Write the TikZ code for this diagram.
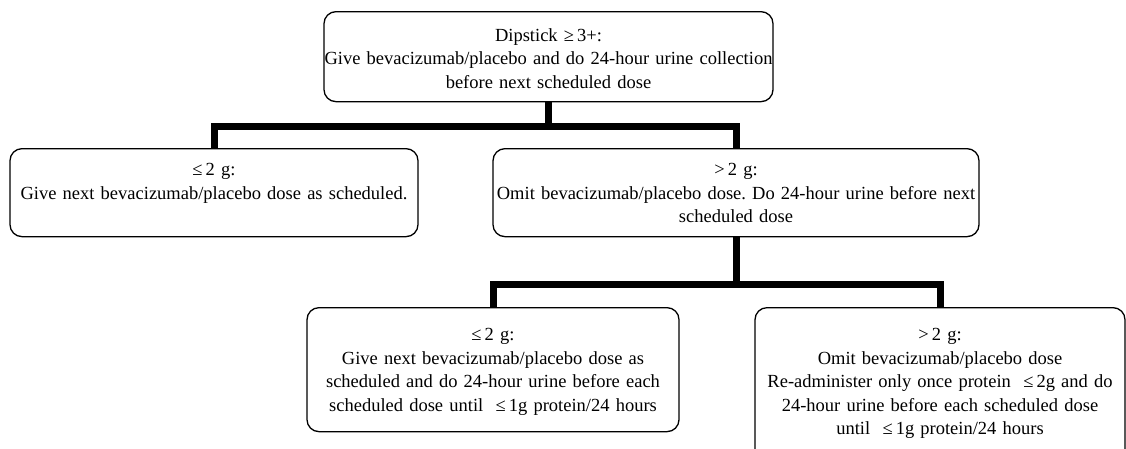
\documentclass[tikz,border=0pt]{standalone}
\usepackage{fontspec}
\setmainfont{Liberation Serif}
\usetikzlibrary{calc}
\frenchspacing

\begin{document}
\begin{tikzpicture}[x=1pt,y=-1pt]
% Box style
\tikzset{
    box/.style={draw, line width=1.3pt, rounded corners=12pt, anchor=north,
        align=center, inner xsep=0pt, inner ysep=0pt,
        font={\fontsize{18.5pt}{23.5pt}\selectfont}},
    conn/.style={line width=7pt}
}
\useasboundingbox (0,0) rectangle (1126,448);
% Boxes
\node[box, text width=449pt, text height=29.5pt, text depth=60.5pt] (DIP) at (548.5,11)
    {Dipstick ≥\,3+:\\ Give bevacizumab/placebo and do 24-hour urine collection\\ before next scheduled dose};
\node[box, text width=408pt, text height=27pt, text depth=61pt] (LOWa) at (214,148)
    {≤\,2 g:\\ Give next bevacizumab/placebo dose as scheduled.};
\node[box, text width=486pt, text height=27pt, text depth=61pt] (HIGHa) at (736,148)
    {>\,2 g:\\ Omit bevacizumab/placebo dose. Do 24-hour urine before next\\ scheduled dose};
\node[box, text width=372pt, text height=33pt, text depth=91pt] (LOWb) at (493,307)
    {≤\,2 g:\\ Give next bevacizumab/placebo dose as\\ scheduled and do 24-hour urine before each\\ scheduled dose until \ ≤\,1g protein/24 hours};
\node[box, text width=370pt, text height=33pt, text depth=130pt] (HIGHb) at (940,307)
    {>\,2 g:\\ Omit bevacizumab/placebo dose\\ Re-administer only once protein \ ≤\,2g and do\\ 24-hour urine before each scheduled dose\\ until \ ≤\,1g protein/24 hours};
% Connection
\coordinate (BARa) at (0,126);
\coordinate (BARb) at (0,284);
\draw[conn] (DIP.south) -- (DIP.south |- BARa);
\draw[conn] (LOWa.north) |- (HIGHa.north |- BARa) -- (HIGHa.north);
\draw[conn] (HIGHa.south) -- (HIGHa.south |- BARb);
\draw[conn] (LOWb.north) |- (HIGHb.north |- BARb) -- (HIGHb.north);
\end{tikzpicture}
\end{document}
